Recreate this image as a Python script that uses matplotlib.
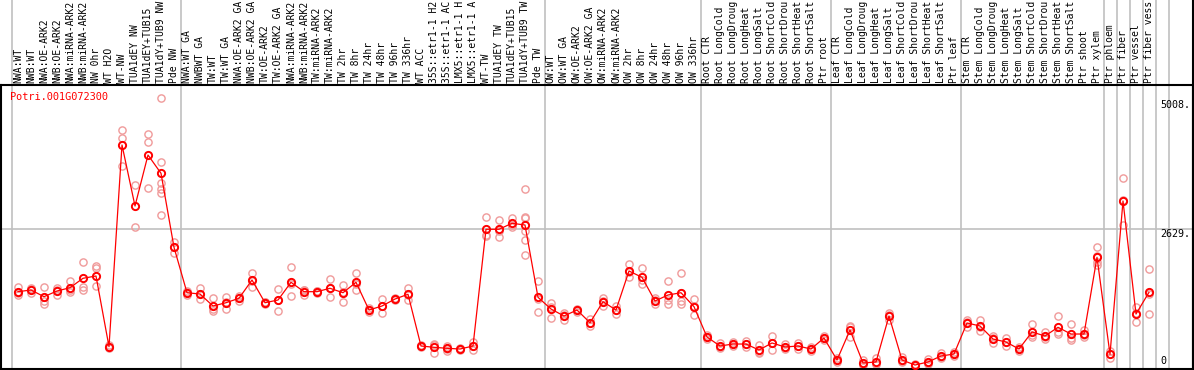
import matplotlib
matplotlib.use("Agg")
import matplotlib.pyplot as plt
import matplotlib.transforms as mtransforms

gene = "Potri.001G072300"

# sample names as they show in the label strip (long ones are cut there)
samples = [
    "NWA:WT", "NWB:WT", "NWA:OE-ARK2", "NWB:OE-ARK2", "NWA:miRNA-ARK2", "NWB:miRNA-ARK2",
    "NW 0hr", "WT H2O", "WT-NW", "TUA1dEY NW", "TUA1dEY+TUB15", "TUA1dY+TUB9 NW", "Pde NW",
    "NWA:WT GA", "NWBWT GA", "TW:WT", "TW:WT GA", "NWA:OE-ARK2 GA", "NWB:OE-ARK2 GA",
    "TW:OE-ARK2", "TW:OE-ARK2 GA", "NWA:miRNA-ARK2", "NWB:miRNA-ARK2", "TW:miRNA-ARK2",
    "TW:miRNA-ARK2", "TW 2hr", "TW 8hr", "TW 24hr", "TW 48hr", "TW 96hr", "TW 336hr", "WT ACC",
    "35S::etr1-1 H2", "35S::etr1-1 AC", "LMX5::etr1-1 H", "LMX5::etr1-1 A", "WT-TW",
    "TUA1dEY TW", "TUA1dEY+TUB15", "TUA1dY+TUB9 TW", "Pde TW",
    "OW:WT", "OW:WT GA", "OW:OE-ARK2", "OW:OE-ARK2 GA", "OW:miRNA-ARK2", "OW:miRNA-ARK2",
    "OW 2hr", "OW 8hr", "OW 24hr", "OW 48hr", "OW 96hr", "OW 336hr",
    "Root CTR", "Root LongCold", "Root LongDroug", "Root LongHeat", "Root LongSalt",
    "Root ShortCold", "Root ShortDrou", "Root ShortHeat", "Root ShortSalt", "Ptr root",
    "Leaf CTR", "Leaf LongCold", "Leaf LongDroug", "Leaf LongHeat", "Leaf LongSalt",
    "Leaf ShortCold", "Leaf ShortDrou", "Leaf ShortHeat", "Leaf ShortSalt", "Ptr leaf",
    "Stem CTR", "Stem LongCold", "Stem LongDroug", "Stem LongHeat", "Stem LongSalt",
    "Stem ShortCold", "Stem ShortDrou", "Stem ShortHeat", "Stem ShortSalt", "Ptr shoot",
    "Ptr xylem", "Ptr phloem", "Ptr fiber", "Ptr vessel", "Ptr fiber vess",
]

group_sizes = [13, 28, 12, 10, 10, 11, 1, 1, 1, 1, 1]

means = [
    1427, 1459, 1331, 1440, 1503, 1684, 1728, 371, 4243, 3072, 4051, 3700, 2279,
    1407, 1382, 1152, 1215, 1300, 1651, 1215, 1267, 1607, 1427, 1427, 1492, 1407, 1607,
    1075, 1152, 1286, 1377, 384, 359, 340, 326, 384, 2625, 2625, 2740, 2707, 1319,
    1094, 960, 1075, 831, 1235, 1075, 1824, 1703, 1248, 1363, 1407, 1139,
    557, 384, 422, 422, 307, 442, 365, 384, 326, 538,
    115, 691, 58, 77, 960, 115, 19, 77, 192, 230,
    826, 768, 518, 461, 326, 653, 576, 743, 614, 614, 2087,
    225, 3168, 998, 1415,
]

replicates = [
    [1523, 1402, 1356], [1498, 1402, 1478], [1517, 1254, 1190], [1498, 1363, 1459],
    [1632, 1427, 1459], [1991, 1523, 1459], [1926, 1876, 1536], [403, 340, 371],
    [4531, 4372, 3840], [3475, 2663], [4449, 4295, 3412],
    [5140, 3911, 3508, 3398, 3316, 2899], [2387, 2164, 2286],
    [1440, 1363, 1418], [1492, 1281, 1373], [1300, 1062, 1094], [1331, 1094, 1220],
    [1344, 1248, 1308], [1791, 1523, 1640], [1235, 1190, 1220], [1473, 1056, 1272],
    [1907, 1344, 1570], [1459, 1363, 1459], [1440, 1396, 1445], [1665, 1319, 1492],
    [1555, 1235, 1430], [1791, 1459, 1571], [1108, 1043, 1075], [1286, 1012, 1158],
    [1300, 1267, 1291], [1503, 1267, 1361], [403, 371, 378], [403, 255, 419],
    [390, 294, 336], [340, 307, 331], [467, 307, 378], [2867, 2515, 2493],
    [2803, 2483, 2589], [2836, 2707, 2677], [3393, 2867, 2836, 2419, 2131, 2597],
    [1632, 1031, 1294],
    [1215, 927, 1140], [1012, 883, 985], [1104, 1075, 1046], [902, 768, 823],
    [1300, 1152, 1253], [1152, 998, 1075], [1958, 1703, 1811], [1887, 1574, 1648],
    [1300, 1185, 1259], [1638, 1185, 1266], [1791, 1254, 1190, 1393], [1281, 979, 1157],
    [595, 518, 557], [442, 340, 370], [461, 384, 422], [480, 365, 422], [403, 269, 249],
    [576, 307, 442], [422, 326, 346], [442, 326, 384], [365, 288, 326], [576, 499, 538],
    [154, 77, 115], [749, 557, 768], [115, 19, 40], [154, 38, 40], [979, 883, 1018],
    [173, 77, 96], [38, 0, 19], [134, 38, 58], [250, 154, 173], [269, 192, 230],
    [883, 749, 845], [883, 672, 749], [576, 442, 537], [538, 384, 461], [365, 288, 326],
    [806, 557, 595], [653, 518, 557], [966, 659, 605], [806, 499, 537], [691, 563, 589],
    [2291, 2003, 1939, 2116],
    [288, 148, 240], [3604, 2707, 3192], [1139, 839, 1016], [1862, 998, 1386],
]

y_ticks = [5008, 2629, 0]

mono = "DejaVu Sans Mono"
W, H = 1194, 370
fig = plt.figure(figsize=(W / 100, H / 100), dpi=100)
# axes covers image pixels x 1..1193, y 85..369
ax = fig.add_axes([1 / W, 1 / H, 1192 / W, 284 / H])
ax.set_xlim((1 - 18) / 13, (1193 - 18) / 13)
ax.set_ylim(-3 * 19.2, 281 * 19.2)
ax.set_xticks([])
ax.set_yticks([])
for s in ax.spines.values():
    s.set_color("black")
    s.set_linewidth(1.5)

# group separators, running up through the label strip
top = 369 / 284
bounds = [-0.5]
for g in group_sizes:
    bounds.append(bounds[-1] + g)
for b in bounds:
    ax.axvline(b, ymin=0, ymax=top, color="#c0c0c0", lw=1.2, clip_on=False, zorder=0)
ax.axhline(y_ticks[1], color="#c0c0c0", lw=1.2, zorder=0)
ax.axvline(ax.get_xlim()[1], ymin=0, ymax=top, color="black", lw=1.5, clip_on=False)

xs = list(range(len(samples)))
for i, r in enumerate(replicates):
    ax.plot([i] * len(r), r, "o", ms=5.2, mfc="none", mec="#f09a9a", mew=1.0, zorder=2)
ax.plot(xs, means, "-", color="#ff0000", lw=0.9, zorder=3)
ax.plot(xs, means, "o", ms=5.2, mfc="none", mec="#ff0000", mew=1.4, zorder=4)

trans = mtransforms.blended_transform_factory(ax.transData, ax.transAxes)
for i, name in enumerate(samples):
    ax.text(i, 1 + 2 / 284, name, transform=trans, rotation=90, ha="center",
            va="bottom", family=mono, fontsize=7.0, clip_on=False)

ax.text((10 - 18) / 13, 5392 - 12 * 19.2, gene, color="#ff0000", family=mono,
        fontsize=7.4, ha="left", va="center")

lx = (1160 - 18) / 13
ax.text(lx, y_ticks[0], f"{y_ticks[0]}.", family=mono, fontsize=7.2, ha="left", va="center")
ax.text(lx, y_ticks[1], f"{y_ticks[1]}.", family=mono, fontsize=7.2, ha="left", va="top")
ax.text(lx, y_ticks[2], f"{y_ticks[2]}", family=mono, fontsize=7.2, ha="left", va="bottom")

fig.savefig("out.png", dpi=100)
